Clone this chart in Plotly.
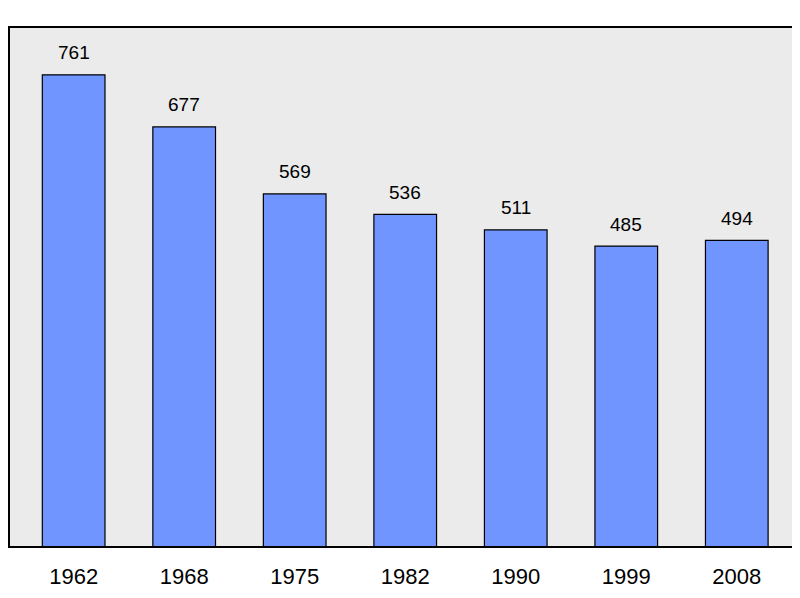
import plotly.graph_objects as go

years = ["1962", "1968", "1975", "1982", "1990", "1999", "2008"]
population = [761, 677, 569, 536, 511, 485, 494]

xs = list(range(len(years)))
fig = go.Figure(go.Bar(
    x=xs, y=population, width=0.567,
    marker=dict(color="#7095ff", line=dict(color="black", width=1.2)),
))
labels = [dict(x=x, y=v, text=str(v), xref="x", yref="y", showarrow=False,
               yshift=22, font=dict(size=19, color="black", family="Liberation Sans"))
          for x, v in zip(xs, population)]
labels.append(dict(text="Isserpent    (source: Insee)", xref="paper", yref="paper",
                   x=39/783, y=-0.112, xanchor="left", yanchor="middle", showarrow=False,
                   font=dict(size=16, color="#aaaaaa", family="Liberation Sans")))
fig.update_layout(
    width=792, height=590,
    margin=dict(l=1, r=0, t=19, b=51),
    paper_bgcolor="white", plot_bgcolor="#ebebeb",
    showlegend=False,
    xaxis=dict(range=[-0.585, 6.572], tickmode="array", tickvals=xs, ticktext=years,
               showgrid=False, zeroline=False, ticks="outside", ticklen=10, tickcolor="rgba(0,0,0,0)",
               tickfont=dict(size=22, color="black", family="Liberation Sans")),
    yaxis=dict(range=[0, 838], showgrid=False, zeroline=False, showticklabels=False),
    shapes=[dict(type="rect", xref="paper", yref="paper", x0=0, y0=0, x1=1, y1=1,
                 line=dict(color="black", width=2))],
    annotations=labels,
)
fig.write_html("out.html")
